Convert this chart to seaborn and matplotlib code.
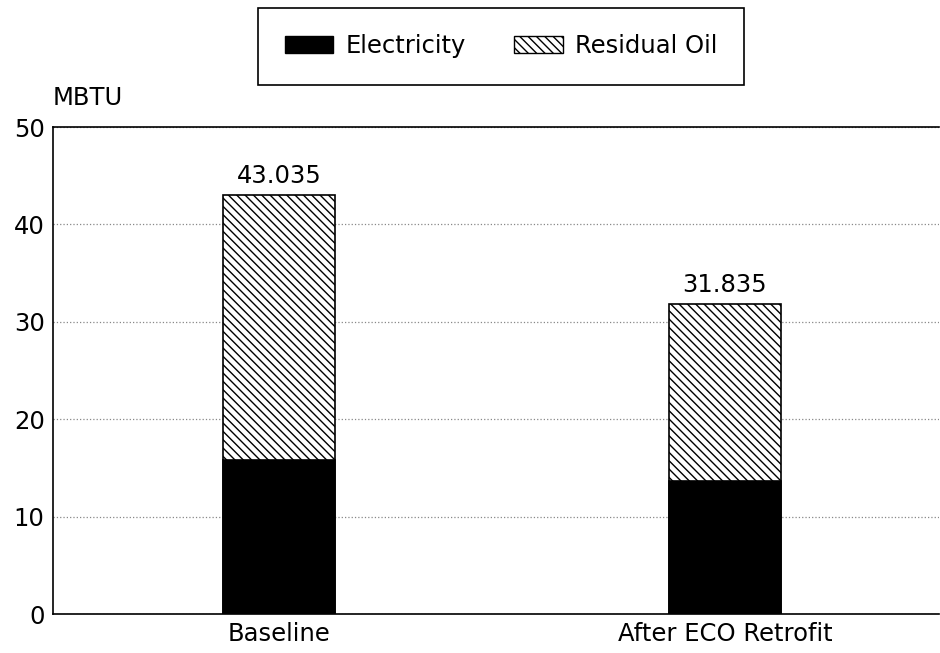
import numpy as np
import pandas as pd
import matplotlib
matplotlib.use('Agg')
import matplotlib.pyplot as plt
from matplotlib.patches import Patch
import seaborn as sns

sns.set_style('white')
plt.rcParams['font.family'] = ['DejaVu Sans']
plt.rcParams['hatch.linewidth'] = 1.0
plt.rcParams['text.color'] = 'black'
plt.rcParams['xtick.color'] = 'black'
plt.rcParams['ytick.color'] = 'black'

# values (MBTU)
scenarios = ['Baseline', 'After ECO Retrofit']
electricity = [15.8, 13.7]
totals = [43.035, 31.835]
residual_oil = [t - e for t, e in zip(totals, electricity)]

df = pd.DataFrame({'scenario': scenarios, 'Electricity': electricity,
                   'Residual Oil': residual_oil, 'total': totals})

fs = 17.5

fig = plt.figure(figsize=(9.4, 6.53), dpi=100)
ax = fig.add_axes([0.0564, 0.0597, 0.9426, 0.7458])

# total bar hatched (oil on top), electricity drawn over it
sns.barplot(ax=ax, data=df, x='scenario', y='total', color='white',
            edgecolor='black', linewidth=1.2, hatch='\\\\\\\\', width=0.25,
            saturation=1, zorder=2)
sns.barplot(ax=ax, data=df, x='scenario', y='Electricity', color='black',
            edgecolor='black', linewidth=1.2, width=0.25, saturation=1, zorder=3)

ax.bar_label(ax.containers[0], labels=[f'{t:.3f}' for t in totals],
             padding=5, fontsize=fs, color='black')

ax.set_xlim(-0.506, 1.48)
ax.set_ylim(0, 50)
ax.set_yticks([0, 10, 20, 30, 40, 50])
ax.tick_params(axis='both', length=0, labelsize=fs, pad=6, labelcolor='black')
ax.set_xlabel('')
ax.set_ylabel('')
ax.yaxis.grid(True, linestyle=':', color='#888888', linewidth=0.9, zorder=0)
ax.set_axisbelow(True)
for side in ['left', 'bottom', 'top']:
    ax.spines[side].set_color('black')
    ax.spines[side].set_linewidth(1.2)
ax.spines['right'].set_visible(False)

ax.annotate('MBTU', xy=(0, 1.035), xycoords='axes fraction', fontsize=fs,
            ha='left', va='bottom', color='black')

handles = [Patch(facecolor='black', edgecolor='black', label='Electricity'),
           Patch(facecolor='white', edgecolor='black', hatch='\\\\\\\\',
                 label='Residual Oil')]
leg = fig.legend(handles=handles, loc='center', bbox_to_anchor=(0.533, 0.929),
                 ncol=2, fontsize=fs, frameon=True, fancybox=False,
                 edgecolor='black', framealpha=1, handlelength=2.0,
                 handleheight=0.7, handletextpad=0.5, columnspacing=2.0,
                 borderpad=1.1, borderaxespad=0)
leg.get_frame().set_linewidth(1.2)
for t in leg.get_texts():
    t.set_color('black')

fig.savefig('out.png', dpi=100)
